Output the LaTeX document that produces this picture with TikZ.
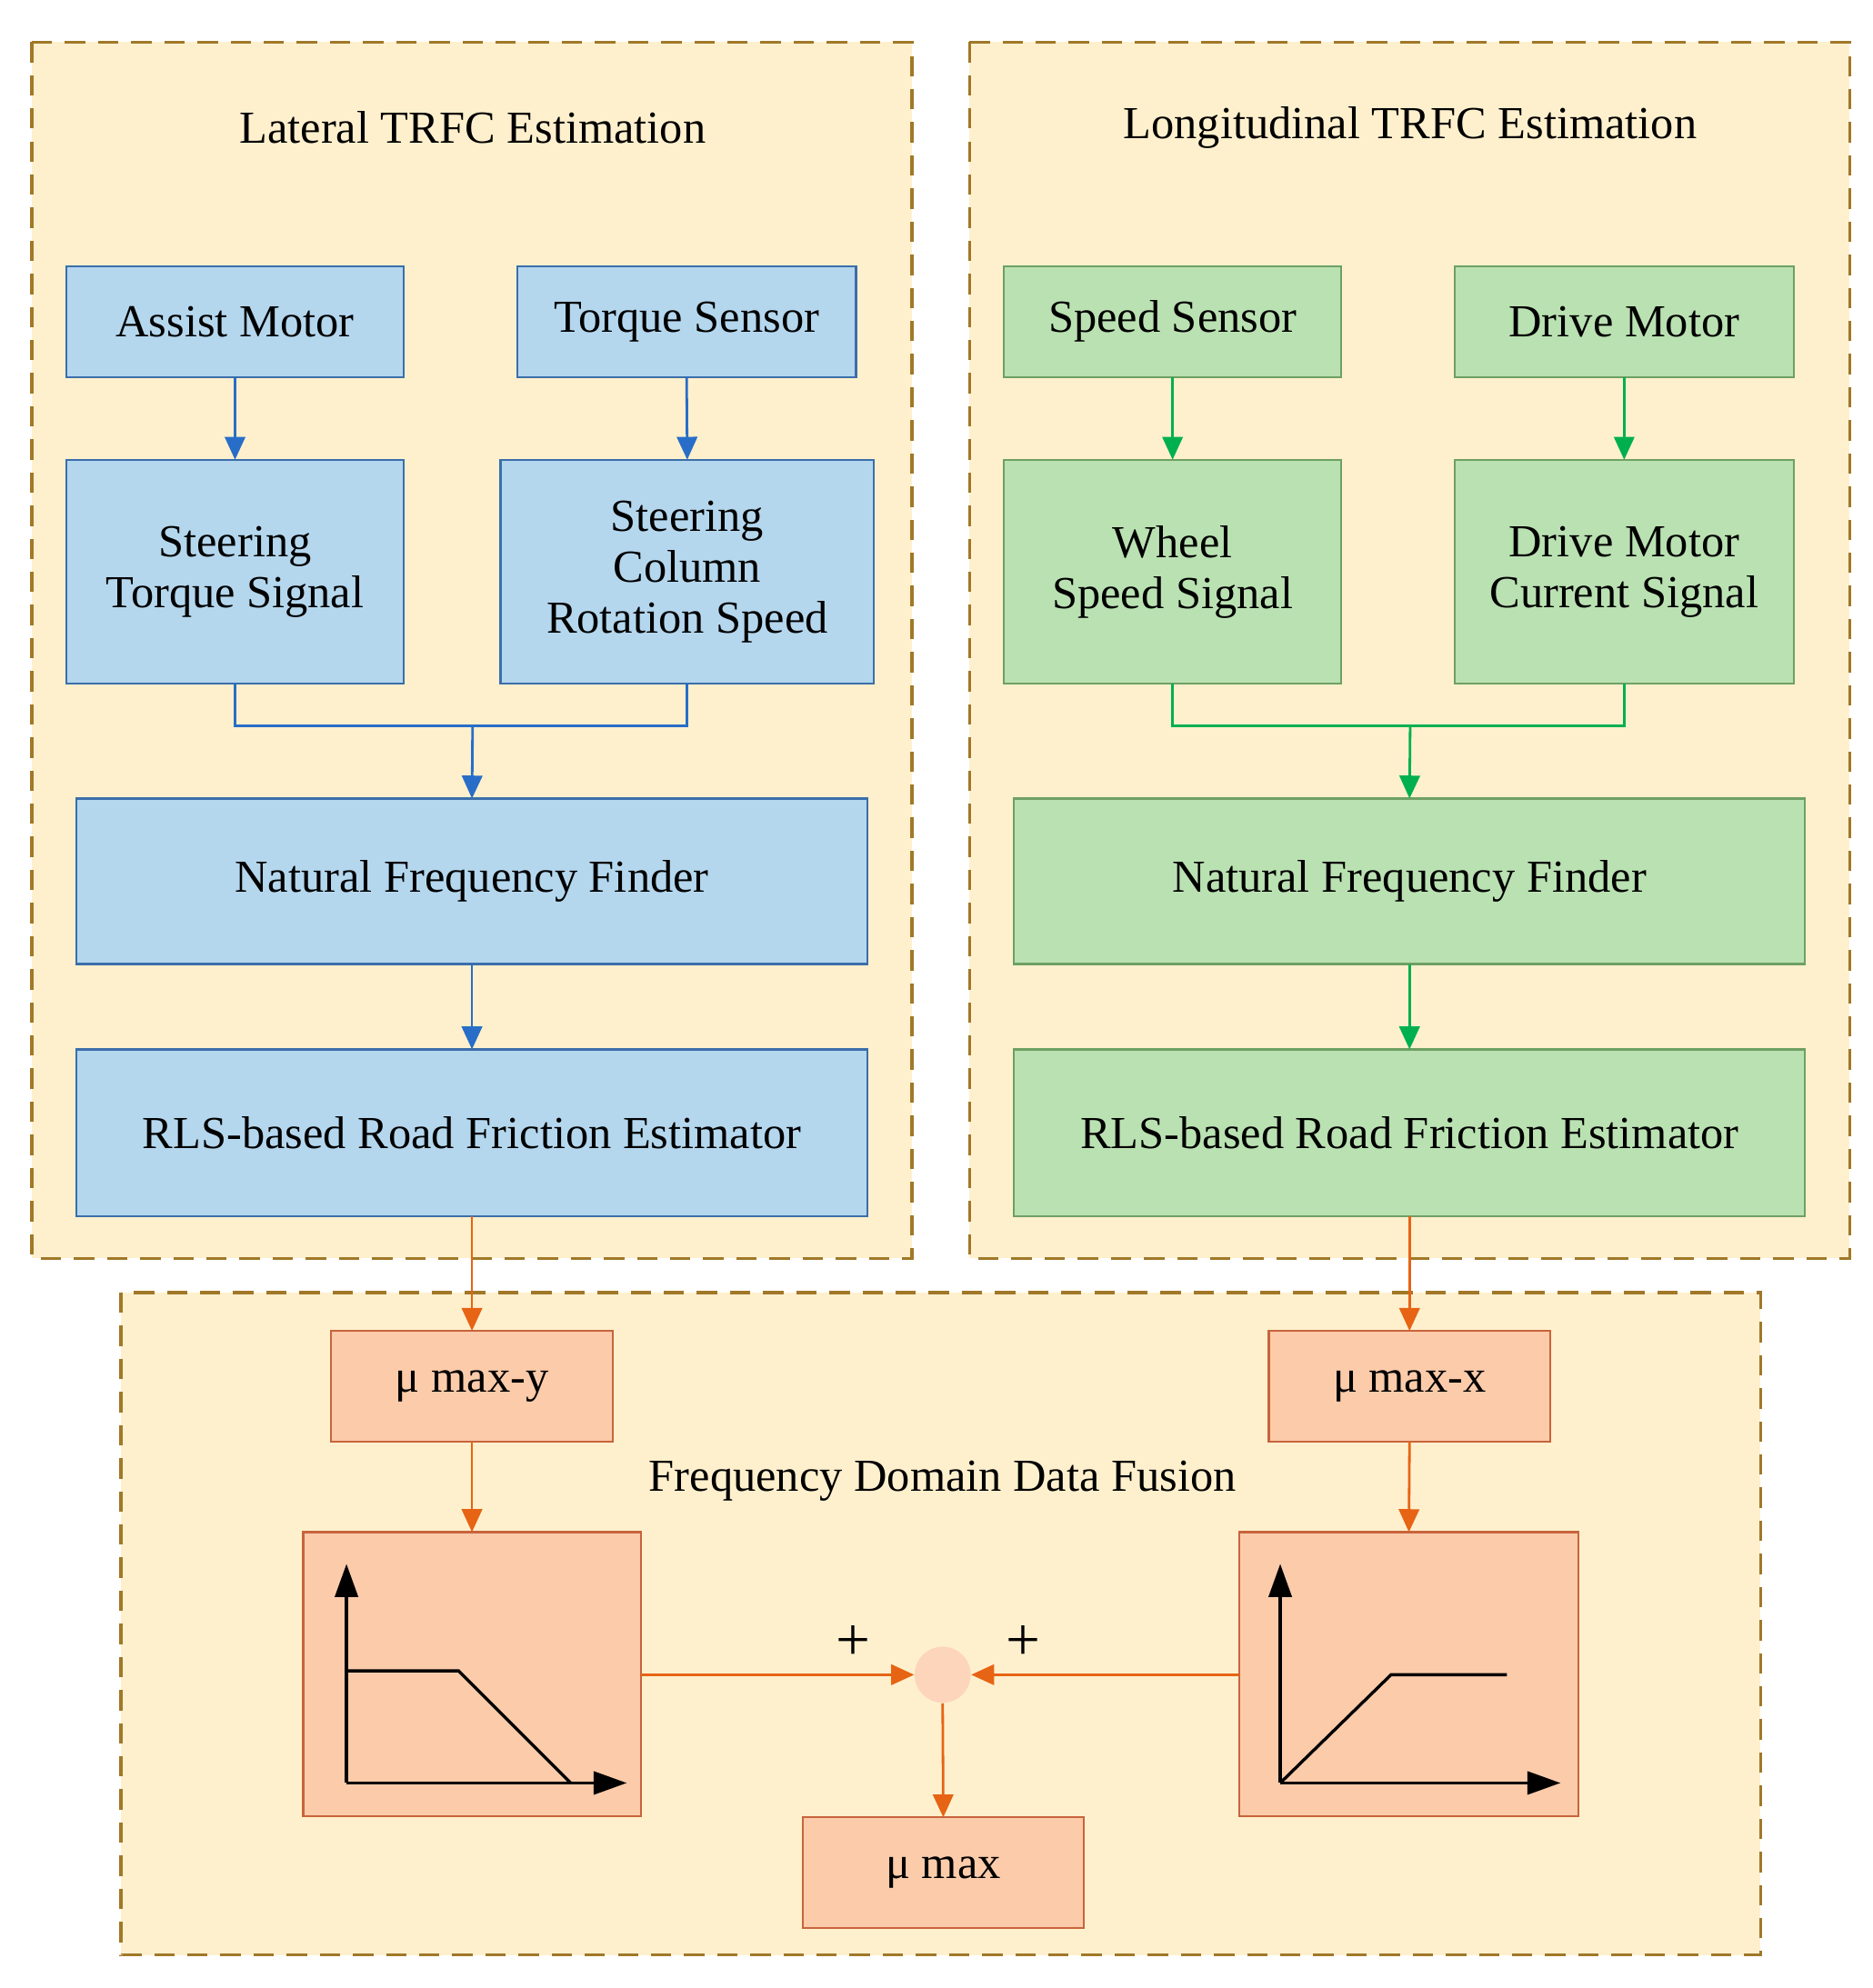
\documentclass[tikz,border=0pt]{standalone}
\usepackage{fontspec}
\setmainfont{Liberation Serif}
\usetikzlibrary{arrows.meta}
\definecolor{bg}{RGB}{255,240,205}
\definecolor{frame}{RGB}{160,120,40}
\definecolor{bfill}{RGB}{180,215,238}
\definecolor{bdraw}{RGB}{60,110,170}
\definecolor{barr}{RGB}{40,110,200}
\definecolor{gfill}{RGB}{186,225,178}
\definecolor{gdraw}{RGB}{110,160,100}
\definecolor{garr}{RGB}{0,176,80}
\definecolor{ofill}{RGB}{251,203,170}
\definecolor{odraw}{RGB}{200,100,60}
\definecolor{oarr}{RGB}{230,100,20}
\begin{document}
\begin{tikzpicture}[x=0.5pt,y=-0.5pt,
  txt/.style={font=\fontsize{18}{20}\selectfont,align=center},
  grp/.style={fill=bg,draw=frame,line width=1.2pt,dash pattern=on 8pt off 5pt},
  bbox/.style={txt,fill=bfill,draw=bdraw,line width=0.8pt},
  gbox/.style={txt,fill=gfill,draw=gdraw,line width=0.8pt},
  obox/.style={txt,fill=ofill,draw=odraw,line width=0.8pt},
  ba/.style={draw=barr,line width=1pt,-{Triangle[length=9pt,width=8pt]}},
  ga/.style={draw=garr,line width=1pt,-{Triangle[length=9pt,width=8pt]}},
  oa/.style={draw=oarr,line width=1pt,-{Triangle[length=9pt,width=8pt]}},
  ax/.style={draw=black,line width=1.2pt,-{Triangle[length=13pt,width=9pt]}}]
\useasboundingbox (0,0) rectangle (1470,1561);
\fill[white] (0,0) rectangle (1470,1561);
\def\B#1#2#3#4#5#6#7{\path[#1] (#3,#4) rectangle (#5,#6); \node[txt] (#2) at ({(#3+#5)/2},{(#4+#6)/2}) {#7}; \coordinate (#2n) at ({(#3+#5)/2},#4); \coordinate (#2s) at ({(#3+#5)/2},#6);}
\path[grp] (25,33) rectangle (716,988);
\path[grp] (761,33) rectangle (1452,988);
\path[grp] (95,1015) rectangle (1382,1535);
\node[txt] (tl) at (371,100) {Lateral TRFC Estimation};
\node[txt] (tr) at (1107,100) {Longitudinal TRFC Estimation};
\node[txt] (tf) at (740,1163) {Frequency Domain Data Fusion};
\B{bbox}{am}{52}{209}{317}{296}{Assist Motor}
\B{bbox}{ts}{406}{209}{672}{296}{Torque Sensor}
\B{bbox}{sts}{52}{361}{317}{537}{Steering\\Torque Signal}
\B{bbox}{scr}{393}{361}{686}{537}{Steering\\Column\\Rotation Speed}
\B{bbox}{nfl}{60}{627}{681}{757}{Natural Frequency Finder}
\B{bbox}{rll}{60}{824}{681}{955}{RLS-based Road Friction Estimator}
\B{gbox}{ss}{788}{209}{1053}{296}{Speed Sensor}
\B{gbox}{dm}{1142}{209}{1408}{296}{Drive Motor}
\B{gbox}{wss}{788}{361}{1053}{537}{Wheel\\Speed Signal}
\B{gbox}{dmc}{1142}{361}{1408}{537}{Drive Motor\\Current Signal}
\B{gbox}{nfr}{796}{627}{1417}{757}{Natural Frequency Finder}
\B{gbox}{rlr}{796}{824}{1417}{955}{RLS-based Road Friction Estimator}
\B{obox}{my}{260}{1045}{481}{1132}{μ max-y}
\B{obox}{mx}{996}{1045}{1217}{1132}{μ max-x}
\B{obox}{gl}{238}{1203}{503}{1426}{}
\B{obox}{gr}{973}{1203}{1239}{1426}{}
\B{obox}{mm}{630}{1427}{851}{1514}{μ max}
\node[circle,fill=ofill!80!white,minimum size=22pt,inner sep=0] (sum) at (740,1315) {};
\node[font=\fontsize{24}{24}\selectfont] (p1) at (670,1290) {+};
\node[font=\fontsize{24}{24}\selectfont] (p2) at (803,1290) {+};
% blue
\draw[ba] (ams) -- (stsn);
\draw[ba] (tss) -- (scrn);
\coordinate (jl) at (371,570);
\draw[draw=barr,line width=1pt] (stss) |- (jl) -| (scrs);
\draw[ba] (jl) -- (nfln);
\draw[ba] (nfls) -- (rlln);
% green
\draw[ga] (sss) -- (wssn);
\draw[ga] (dms) -- (dmcn);
\coordinate (jr) at (1107,570);
\draw[draw=garr,line width=1pt] (wsss) |- (jr) -| (dmcs);
\draw[ga] (jr) -- (nfrn);
\draw[ga] (nfrs) -- (rlrn);
% orange
\draw[oa] (rlls) -- (myn);
\draw[oa] (rlrs) -- (mxn);
\draw[oa] (mys) -- (gln);
\draw[oa] (mxs) -- (grn);
\draw[oa] (503,1315) -- (sum.west);
\draw[oa] (973,1315) -- (sum.east);
\draw[oa] (sum.south) -- (mmn);
% graphs
\draw[ax] (272,1400) -- (272,1228);
\draw[ax] (272,1400) -- (492,1400);
\draw[line width=1.2pt] (272,1312) -- (360,1312) -- (448,1400);
\draw[ax] (1005,1400) -- (1005,1228);
\draw[ax] (1005,1400) -- (1225,1400);
\draw[line width=1.2pt] (1005,1400) -- (1092,1315) -- (1183,1315);
\end{tikzpicture}
\end{document}
